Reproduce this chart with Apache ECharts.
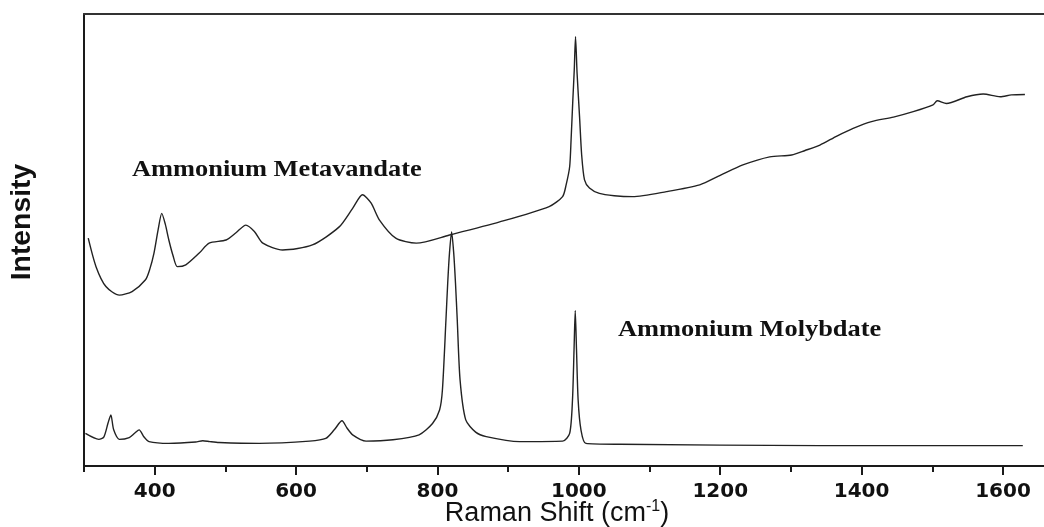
<!DOCTYPE html>
<html>
<head>
<meta charset="utf-8">
<title>Raman spectra</title>
<script src="https://cdn.jsdelivr.net/npm/echarts@6/dist/echarts.min.js"></script>
<style>
  html, body { margin: 0; padding: 0; background: #fff; }
  #container { width: 1044px; height: 527px; }
</style>
</head>
<body>
<div id="container"></div>
<script>
// Ammonium Metavandate (upper trace)
var mvShift = [306, 317, 331, 350, 368, 387, 393, 399, 405, 410, 415, 420, 426, 432, 444, 463, 477, 501, 515, 529, 541, 553, 581, 623, 661, 680, 694, 706, 718, 741, 770, 817, 888, 958, 977, 982, 987, 989, 991.5, 993.5, 995.3, 997.5, 1001, 1004, 1008, 1015, 1029, 1050, 1076, 1124, 1171, 1200, 1232, 1270, 1301, 1320, 1341, 1365, 1388, 1414, 1445, 1473, 1501, 1507, 1520, 1549, 1572, 1596, 1612, 1631];
var mvIntensity = [50.4, 44.1, 39.7, 37.8, 38.6, 41.2, 43.5, 47.1, 52.4, 55.9, 53.5, 50.0, 46.5, 44.1, 44.5, 47.1, 49.3, 50.0, 51.6, 53.3, 51.9, 49.3, 47.8, 48.9, 52.9, 57.0, 60.0, 58.2, 54.4, 50.4, 49.3, 51.1, 54.0, 57.4, 59.6, 62.2, 66.2, 72.1, 81.0, 87.6, 95.0, 86.9, 77.3, 68.8, 63.3, 61.5, 60.3, 59.8, 59.6, 60.7, 62.2, 64.3, 66.6, 68.4, 68.8, 69.8, 71.0, 73.0, 74.7, 76.2, 77.2, 78.4, 79.9, 80.8, 80.2, 81.7, 82.3, 81.7, 82.1, 82.2];

// Ammonium Molybdate (lower trace)
var moShift = [302, 321, 328, 334, 338, 342, 350, 364, 372, 378, 385, 392, 420, 458, 468, 478, 491, 548, 619, 642, 654, 665, 672, 680, 699, 737, 774, 793, 803, 807, 812, 814.5, 817, 820, 823, 825.5, 828, 832, 840, 854, 869, 916, 977, 987, 991, 993.2, 994.9, 996.7, 999, 1003, 1010, 1058, 1341, 1628];
var moIntensity = [7.2, 5.9, 6.4, 9.5, 11.3, 8.0, 5.9, 6.3, 7.3, 8.0, 6.4, 5.4, 5.0, 5.3, 5.6, 5.4, 5.2, 5.0, 5.5, 6.1, 8.0, 10.0, 8.4, 6.9, 5.5, 5.8, 6.9, 9.4, 12.4, 16.8, 32.3, 40.5, 47.1, 51.8, 47.1, 40.5, 32.3, 19.0, 10.2, 7.5, 6.5, 5.4, 5.5, 7.2, 14.6, 25.7, 34.4, 25.7, 14.6, 8.0, 5.0, 4.8, 4.5, 4.5];

var tickLabels = [400, 600, 800, 1000, 1200, 1400, 1600];
var minorTicks = [300, 500, 700, 900, 1100, 1300, 1500];

function pairs(xs, ys) {
  var out = [];
  for (var i = 0; i < xs.length; i++) out.push([xs[i], ys[i]]);
  return out;
}

var dom = document.getElementById("container");
var myChart = echarts.init(dom);
var axisColor = '#1a1a1a';
var xMin = 300, xMax = 1658;

var option = {
  animation: false,
  grid: { left: 84, right: 0, top: 14, bottom: 61, containLabel: false, outerBoundsMode: 'none' },
  xAxis: [
    {
      type: 'value', min: xMin, max: xMax, position: 'bottom',
      axisLine: { show: true, lineStyle: { color: axisColor, width: 2 } },
      axisTick: { show: true, customValues: tickLabels, length: 9, lineStyle: { color: axisColor, width: 2 } },
      axisLabel: {
        customValues: tickLabels, margin: 16, color: '#111',
        fontFamily: 'DejaVu Sans', fontWeight: 'bold', fontSize: 20,
        formatter: function (v) { return String(v); }
      },
      splitLine: { show: false },
      name: 'Raman Shift (cm{sup|-1})',
      nameLocation: 'middle', nameGap: 33, nameMoveOverlap: false,
      nameTextStyle: {
        fontFamily: 'Liberation Sans', fontSize: 27, color: '#111', padding: [0, 14, 0, 0],
        rich: { sup: { fontFamily: 'Liberation Sans', fontSize: 16, verticalAlign: 'top', color: '#111', padding: [0, 0, 14, 0] } }
      }
    },
    {
      type: 'value', min: xMin, max: xMax, position: 'bottom',
      axisLine: { show: false },
      axisTick: { show: true, customValues: minorTicks, length: 6, lineStyle: { color: axisColor, width: 2 } },
      axisLabel: { show: false },
      splitLine: { show: false }
    },
    {
      type: 'value', min: xMin, max: xMax, position: 'top',
      axisLine: { show: true, lineStyle: { color: '#333', width: 2 } },
      axisTick: { show: false }, axisLabel: { show: false },
      splitLine: { show: false }
    }
  ],
  yAxis: {
    type: 'value', min: 0, max: 100,
    axisLine: { show: true, lineStyle: { color: axisColor, width: 2 } },
    axisTick: { show: false }, axisLabel: { show: false },
    splitLine: { show: false }
  },
  graphic: [
    {
      type: 'text', x: 23, y: 222, rotation: Math.PI / 2, scaleX: 1.05,
      style: {
        text: 'Intensity', fill: '#111', align: 'center', verticalAlign: 'middle',
        font: 'bold 27px "Liberation Sans", sans-serif'
      }
    },
    {
      type: 'text', x: 132, y: 170, scaleX: 1.1,
      style: {
        text: 'Ammonium Metavandate', fill: '#111', verticalAlign: 'middle',
        font: 'bold 24px "Liberation Serif", serif'
      }
    },
    {
      type: 'text', x: 618, y: 330, scaleX: 1.1,
      style: {
        text: 'Ammonium Molybdate', fill: '#111', verticalAlign: 'middle',
        font: 'bold 24px "Liberation Serif", serif'
      }
    }
  ],
  series: [
    {
      name: 'Ammonium Metavandate', type: 'line', xAxisIndex: 0,
      data: pairs(mvShift, mvIntensity), showSymbol: false, smooth: 0.25,
      lineStyle: { color: '#222', width: 1.4 }
    },
    {
      name: 'Ammonium Molybdate', type: 'line', xAxisIndex: 0,
      data: pairs(moShift, moIntensity), showSymbol: false, smooth: 0.25,
      lineStyle: { color: '#222', width: 1.4 }
    }
  ]
};
myChart.setOption(option);
</script>
</body>
</html>
